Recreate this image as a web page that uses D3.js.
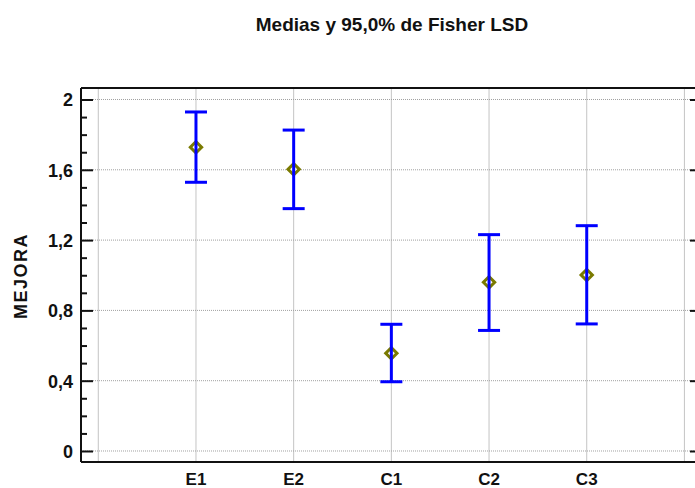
<!DOCTYPE html>
<html>
<head>
<meta charset="utf-8">
<script src="https://cdn.jsdelivr.net/npm/d3@7"></script>
<style>
  body { margin: 0; background: #fff; }
  text { font-family: "Liberation Sans", Arial, sans-serif; font-weight: bold; }
</style>
</head>
<body>
<div id="chart"></div>
<script>
"use strict"

// groups and LSD intervals
const groups = ["E1", "E2", "C1", "C2", "C3"];
const means = [1.728, 1.603, 0.556, 0.960, 1.001];
const lower = [1.529, 1.379, 0.394, 0.686, 0.723];
const upper = [1.929, 1.826, 0.721, 1.231, 1.282];
const yTicks = [0, 0.4, 0.8, 1.2, 1.6, 2];

const W = 695, H = 488;
const plotL = 81, plotR = 702, plotT = 88, plotB = 462;

const svg = d3.select("#chart").append("svg")
  .attr("width", W)
  .attr("height", H);

// x by position, empty slot at each end
const x = d3.scaleLinear().domain([-0.177, 6.18]).range([plotL, plotR]);
const y = d3.scaleLinear().domain([-0.0626, 2.0654]).range([plotB, plotT]);

const gridG = svg.append("g");
// vertical grid
gridG.selectAll(".vg")
  .data(d3.range(0, groups.length + 2))
  .enter().append("line")
    .attr("x1", d => x(d)).attr("x2", d => x(d))
    .attr("y1", plotT).attr("y2", plotB)
    .attr("stroke", "#c4c4c4").attr("stroke-width", 1);
// horizontal grid (dotted)
gridG.selectAll(".hg")
  .data(yTicks)
  .enter().append("line")
    .attr("x1", plotL).attr("x2", plotR)
    .attr("y1", d => y(d)).attr("y2", d => y(d))
    .attr("stroke", "#a0a0a0").attr("stroke-width", 1)
    .attr("stroke-dasharray", "1,1");

// frame
svg.append("line").attr("x1", plotL).attr("x2", plotR).attr("y1", plotT).attr("y2", plotT)
  .attr("stroke", "#111").attr("stroke-width", 2);
svg.append("line").attr("x1", plotL).attr("x2", plotR).attr("y1", plotB).attr("y2", plotB)
  .attr("stroke", "#111").attr("stroke-width", 2);
svg.append("line").attr("x1", plotL).attr("x2", plotL).attr("y1", plotT).attr("y2", plotB)
  .attr("stroke", "#111").attr("stroke-width", 2);

// y axis: ticks pointing inward
const fmt = d => d3.format(".1~f")(d).replace(".", ",");
const yAxis = svg.append("g")
  .attr("transform", "translate(" + plotL + ",0)")
  .call(d3.axisRight(y).tickValues(yTicks).tickSize(12).tickFormat(""));
yAxis.select(".domain").remove();
yAxis.selectAll("line").attr("stroke", "#111").attr("stroke-width", 2);

const minor = d3.range(0, 21).map(d => d / 10).filter(d => Math.round(d * 10) % 4 !== 0);
const yMinor = svg.append("g")
  .attr("transform", "translate(" + plotL + ",0)")
  .call(d3.axisRight(y).tickValues(minor).tickSize(6).tickFormat(""));
yMinor.select(".domain").remove();
yMinor.selectAll("line").attr("stroke", "#111").attr("stroke-width", 2);

// right side ticks
const yRight = svg.append("g")
  .attr("transform", "translate(" + plotR + ",0)")
  .call(d3.axisLeft(y).tickValues(yTicks).tickSize(12).tickFormat(""));
yRight.select(".domain").remove();
yRight.selectAll("line").attr("stroke", "#111").attr("stroke-width", 2);

// y tick labels
svg.append("g").selectAll("text")
  .data(yTicks)
  .enter().append("text")
    .attr("x", plotL - 8)
    .attr("y", d => y(d) + 7)
    .attr("text-anchor", "end")
    .style("font-size", "18px")
    .attr("fill", "#111")
    .text(fmt);

// x labels
svg.append("g").selectAll("text")
  .data(groups)
  .enter().append("text")
    .attr("x", (d, i) => x(i + 1))
    .attr("y", 485)
    .attr("text-anchor", "middle")
    .style("font-size", "17px")
    .attr("fill", "#111")
    .text(d => d);

// title
svg.append("text")
  .attr("x", 392).attr("y", 31)
  .attr("text-anchor", "middle")
  .style("font-size", "19px")
  .attr("fill", "#111")
  .text("Medias y 95,0% de Fisher LSD");

// y title
svg.append("text")
  .attr("transform", "translate(27,276) rotate(-90)")
  .attr("text-anchor", "middle")
  .style("font-size", "18px")
  .style("letter-spacing", "1.5px")
  .attr("fill", "#111")
  .text("MEJORA");

const bars = svg.append("g").selectAll("g")
  .data(groups)
  .enter().append("g");

// mean diamonds (under the bars)
const diamond = d3.symbol().type(d3.symbolSquare).size(64);
bars.append("path")
  .attr("d", diamond)
  .attr("transform", (d, i) => "translate(" + x(i + 1) + "," + y(means[i]) + ") rotate(45)")
  .attr("fill", "#fff")
  .attr("stroke", "#7a7a00")
  .attr("stroke-width", 3);

// error bars
bars.append("line")
  .attr("x1", (d, i) => x(i + 1)).attr("x2", (d, i) => x(i + 1))
  .attr("y1", (d, i) => y(upper[i])).attr("y2", (d, i) => y(lower[i]))
  .attr("stroke", "#0000ff").attr("stroke-width", 3);
bars.append("line")
  .attr("x1", (d, i) => x(i + 1) - 11).attr("x2", (d, i) => x(i + 1) + 11)
  .attr("y1", (d, i) => y(upper[i])).attr("y2", (d, i) => y(upper[i]))
  .attr("stroke", "#0000ff").attr("stroke-width", 3);
bars.append("line")
  .attr("x1", (d, i) => x(i + 1) - 11).attr("x2", (d, i) => x(i + 1) + 11)
  .attr("y1", (d, i) => y(lower[i])).attr("y2", (d, i) => y(lower[i]))
  .attr("stroke", "#0000ff").attr("stroke-width", 3);
</script>
</body>
</html>
